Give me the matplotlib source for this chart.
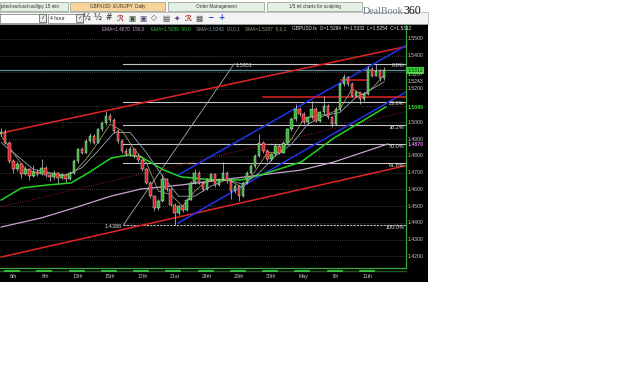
import matplotlib
matplotlib.use("Agg")
import matplotlib.pyplot as plt
from matplotlib.patches import Rectangle

plt.rcParams["font.family"] = ["Liberation Sans", "DejaVu Sans"]

# 4-hour GBP/USD candles (one entry per bar)
opens = [1.4930, 1.4945, 1.4880, 1.4770, 1.4720, 1.4755, 1.4690, 1.4725, 1.4680, 1.4705,
         1.4690, 1.4730, 1.4685, 1.4675, 1.4700, 1.4670, 1.4685, 1.4665, 1.4700, 1.4770,
         1.4840, 1.4820, 1.4890, 1.4920, 1.4880, 1.4960, 1.4995, 1.5040, 1.5015, 1.4950,
         1.4890, 1.4830, 1.4810, 1.4840, 1.4800, 1.4775, 1.4720, 1.4640, 1.4560, 1.4490,
         1.4530, 1.4660, 1.4600, 1.4510, 1.4460, 1.4500, 1.4475, 1.4540, 1.4640, 1.4700,
         1.4640, 1.4600, 1.4660, 1.4690, 1.4625, 1.4660, 1.4700, 1.4650, 1.4590, 1.4620,
         1.4560, 1.4640, 1.4700, 1.4740, 1.4800, 1.4880, 1.4830, 1.4780, 1.4810, 1.4860,
         1.4820, 1.4880, 1.4960, 1.5020, 1.5080, 1.5050, 1.5000, 1.5030, 1.5080, 1.5010,
         1.5060, 1.5100, 1.5030, 1.4990, 1.5080, 1.5230, 1.5270, 1.5230, 1.5160, 1.5180,
         1.5140, 1.5170, 1.5320, 1.5280, 1.5310, 1.5264]
highs = [1.4965, 1.4960, 1.4890, 1.4780, 1.4770, 1.4760, 1.4740, 1.4730, 1.4745, 1.4720,
         1.4785, 1.4740, 1.4695, 1.4715, 1.4705, 1.4700, 1.4690, 1.4710, 1.4780, 1.4850,
         1.4855, 1.4900, 1.4935, 1.4930, 1.4970, 1.5010, 1.5070, 1.5055, 1.5025, 1.4960,
         1.4900, 1.4850, 1.4860, 1.4850, 1.4815, 1.4785, 1.4730, 1.4650, 1.4570, 1.4545,
         1.4690, 1.4670, 1.4610, 1.4520, 1.4510, 1.4510, 1.4550, 1.4650, 1.4720, 1.4710,
         1.4650, 1.4670, 1.4700, 1.4695, 1.4670, 1.4765, 1.4710, 1.4660, 1.4630, 1.4625,
         1.4650, 1.4710, 1.4750, 1.4810, 1.4930, 1.4890, 1.4840, 1.4820, 1.4870, 1.4870,
         1.4890, 1.4970, 1.5030, 1.5110, 1.5090, 1.5060, 1.5040, 1.5130, 1.5090, 1.5070,
         1.5160, 1.5110, 1.5040, 1.5090, 1.5240, 1.5290, 1.5280, 1.5240, 1.5195, 1.5185,
         1.5180, 1.5340, 1.5330, 1.5351, 1.5320, 1.5332]
lows = [1.4920, 1.4870, 1.4760, 1.4700, 1.4710, 1.4670, 1.4685, 1.4655, 1.4675, 1.4680,
        1.4685, 1.4675, 1.4650, 1.4665, 1.4640, 1.4660, 1.4645, 1.4655, 1.4695, 1.4760,
        1.4810, 1.4815, 1.4880, 1.4870, 1.4875, 1.4950, 1.4985, 1.5000, 1.4940, 1.4880,
        1.4820, 1.4800, 1.4800, 1.4790, 1.4765, 1.4710, 1.4630, 1.4550, 1.4470, 1.4480,
        1.4525, 1.4590, 1.4500, 1.4388, 1.4450, 1.4465, 1.4470, 1.4535, 1.4630, 1.4630,
        1.4590, 1.4595, 1.4650, 1.4615, 1.4620, 1.4655, 1.4640, 1.4545, 1.4580, 1.4530,
        1.4555, 1.4630, 1.4690, 1.4730, 1.4795, 1.4820, 1.4770, 1.4770, 1.4800, 1.4810,
        1.4815, 1.4875, 1.4950, 1.5010, 1.5040, 1.4990, 1.4990, 1.5020, 1.5000, 1.5000,
        1.5050, 1.5020, 1.4975, 1.4985, 1.5070, 1.5220, 1.5220, 1.5150, 1.5150, 1.5110,
        1.5130, 1.5165, 1.5270, 1.5275, 1.5250, 1.5254]
closes = [1.4945, 1.4880, 1.4770, 1.4720, 1.4755, 1.4690, 1.4725, 1.4680, 1.4705, 1.4690,
          1.4730, 1.4685, 1.4675, 1.4700, 1.4670, 1.4685, 1.4665, 1.4700, 1.4770, 1.4840,
          1.4820, 1.4890, 1.4920, 1.4880, 1.4960, 1.4995, 1.5040, 1.5015, 1.4950, 1.4890,
          1.4830, 1.4810, 1.4840, 1.4800, 1.4775, 1.4720, 1.4640, 1.4560, 1.4490, 1.4530,
          1.4660, 1.4600, 1.4510, 1.4460, 1.4500, 1.4475, 1.4540, 1.4640, 1.4700, 1.4640,
          1.4600, 1.4660, 1.4690, 1.4625, 1.4660, 1.4700, 1.4650, 1.4590, 1.4620, 1.4560,
          1.4640, 1.4700, 1.4740, 1.4800, 1.4880, 1.4830, 1.4780, 1.4810, 1.4860, 1.4820,
          1.4880, 1.4960, 1.5020, 1.5080, 1.5050, 1.5000, 1.5030, 1.5080, 1.5010, 1.5060,
          1.5100, 1.5030, 1.4990, 1.5080, 1.5230, 1.5270, 1.5230, 1.5160, 1.5180, 1.5140,
          1.5170, 1.5320, 1.5280, 1.5310, 1.5264, 1.5312]

# indicator lines, sampled by eye (bar index, price)
ema150_x = [0, 9.9, 18.1, 27.3, 34.7, 44.6, 54.5, 64.4, 74.4, 82.5, 89.2, 95.9]
ema150_y = [1.4376, 1.4430, 1.4490, 1.4561, 1.4603, 1.4627, 1.4657, 1.4687, 1.4716, 1.4764, 1.4818, 1.4872]
ema50_x = [0, 5, 11.6, 17.3, 21.6, 27.3, 31.5, 34.7, 40.4, 44.6, 52.8, 59.5, 64.4, 74.4, 82.5, 89.2, 95.4]
ema50_y = [1.4537, 1.4609, 1.4627, 1.4639, 1.4699, 1.4788, 1.4806, 1.4794, 1.4716, 1.4675, 1.4657,
           1.4657, 1.4687, 1.4764, 1.4907, 1.5003, 1.5093]
sma10_x = [0, 4, 8, 12, 16, 20, 24, 28, 32, 36, 40, 44, 48, 52, 56, 60, 64, 68, 72, 76, 80, 84, 88, 92, 95]
sma10_y = [1.4880, 1.4800, 1.4720, 1.4700, 1.4685, 1.4730, 1.4830, 1.4940, 1.4940, 1.4820, 1.4680, 1.4560,
           1.4560, 1.4620, 1.4660, 1.4630, 1.4700, 1.4800, 1.4870, 1.4990, 1.5040, 1.5060, 1.5150, 1.5200, 1.5243]
sma5_x = [0, 3, 6, 9, 12, 15, 18, 21, 24, 27, 30, 33, 36, 39, 42, 45, 48, 51, 54, 57, 60, 63, 66, 69,
          72, 75, 78, 81, 84, 87, 90, 93, 95]
sma5_y = [1.4920, 1.4820, 1.4720, 1.4700, 1.4695, 1.4680, 1.4700, 1.4780, 1.4880, 1.4990, 1.4950, 1.4840,
          1.4760, 1.4590, 1.4570, 1.4500, 1.4590, 1.4650, 1.4660, 1.4650, 1.4610, 1.4710, 1.4820, 1.4820,
          1.4900, 1.5020, 1.5040, 1.5050, 1.5080, 1.5200, 1.5160, 1.5230, 1.5287]

# drawn objects: (x0, y0, x1, y1)
red_upper = [0, 1.4937, 101.1, 1.5457]
red_lower = [0, 1.4197, 101.1, 1.4746]
red_mid = [0, 1.4496, 101.1, 1.5069]
blue_upper = [43.9, 1.4687, 101.1, 1.5469]
blue_lower = [43.9, 1.4400, 100.4, 1.5182]
resist_long = [65.0, 1.5152]
resist_short = [84.3, 90.5, 1.5254]

fib_low, fib_high = 1.4388, 1.5351
fib_x0, fib_x1 = 30.3, 57.8
fib_ratios = [0.0, 0.236, 0.382, 0.5, 0.618, 1.0]
fib_names = ["0.0%", "23.6%", "38.2%", "50.0%", "61.8%", "100.0%"]

last_price = 1.5312
grid_levels = [1.42, 1.43, 1.44, 1.45, 1.46, 1.47, 1.48, 1.49, 1.50, 1.51, 1.52, 1.53, 1.54, 1.55]
axis_labels = [1.42, 1.43, 1.44, 1.45, 1.46, 1.47, 1.48, 1.49, 1.50, 1.52, 1.54, 1.55]
tick_pos = [3, 11, 19, 27, 35, 43, 51, 59, 67, 75, 83, 91]
tick_names = ["6th", "8th", "13th", "15th", "17th", "21st", "24th", "28th", "30th", "May", "7th", "11th"]

W, H = 625, 365
fig = plt.figure(figsize=(W / 100, H / 100), dpi=100, facecolor="white")


def fx(px):
    return px / W


def fy(py):
    return 1 - py / H


# window chrome drawn in pixel coordinates
bg = fig.add_axes([0, 0, 1, 1], zorder=-1)
bg.set_xlim(0, W)
bg.set_ylim(H, 0)
bg.axis("off")
bg.add_patch(Rectangle((0, 24), 428, 258, fc="black", ec="none"))
bg.add_patch(Rectangle((0, 12), 428, 12, fc="#f4f4f4", ec="#a8a8a8", lw=0.5))
tabs = [(0, 68, "plied-eur/usd-usd/jpy 15 min", "#e6eee6", "left"),
        (70, 95, "GBP/USD  EUR/JPY  Daily", "#f8d49a", "center"),
        (168, 96, "Order Management", "#e4f0e4", "center"),
        (267, 95, "1/5 ml charts for scalping", "#e4f0e4", "center")]
for x0, w, label, col, ha in tabs:
    bg.add_patch(Rectangle((x0, 2), w, 9, fc=col, ec="#8a9a8a", lw=0.5))
    tx = x0 + 1 if ha == "left" else x0 + w / 2
    bg.text(tx, 6.6, label, fontsize=3.3, ha=ha, va="center", color="#303030")
bg.text(403, 11, "DealBook", fontsize=7.2, family="Liberation Serif", color="#667788", va="center", ha="right")
bg.text(403.5, 11.5, "360", fontsize=8.5, family="Liberation Serif", color="#111111", va="center", ha="left")
# dropdowns and toolbar icons
bg.add_patch(Rectangle((0, 13.5), 46, 9, fc="white", ec="#7a7a7a", lw=0.5))
bg.add_patch(Rectangle((39, 14), 7, 8, fc="#e8e8e8", ec="#555555", lw=0.5))
bg.text(42.5, 18, "✓", fontsize=4, ha="center", va="center", color="#224422")
bg.add_patch(Rectangle((48, 13.5), 35, 9, fc="white", ec="#7a7a7a", lw=0.5))
bg.text(50, 18, "4 hour", fontsize=3.6, va="center", color="#202020")
bg.add_patch(Rectangle((76, 14), 7, 8, fc="#e8e8e8", ec="#555555", lw=0.5))
bg.text(79.5, 18, "✓", fontsize=4, ha="center", va="center", color="#224422")
icons = [(87, "½", "#555555"), (98, "½", "#555555"), (109, "#", "#555555"), (120, "ℛ", "#aa3333"),
         (132, "▣", "#335533"), (143, "▣", "#555577"), (154, "◇", "#444444"), (166, "▤", "#444444"),
         (177, "✦", "#6644aa"), (188, "ℛ", "#aa3333"), (199, "▦", "#555555"), (210, "−", "#2244cc"),
         (221, "+", "#2244cc")]
for x, g, c in icons:
    bg.text(x, 18, g, fontsize=5.5, ha="center", va="center", color=c, family="DejaVu Sans", fontweight="bold")
# time strip under the chart
bg.plot([0, 406], [271, 271], color="#1f5a1f", lw=1.0)
for t in tick_pos:
    xp = (t - 0.025) * 4.034
    bg.plot([xp - 7, xp + 7], [271, 271], color="#3ed83e", lw=1.2)

# main price panel
ax = fig.add_axes([0, fy(268), 406 / W, 243 / H], facecolor="black")
ax.set_xlim(-0.3, 100.4)
ax.set_ylim(1.41313, 1.55821)
for s in ["top", "left"]:
    ax.spines[s].set_visible(False)
for s in ["right", "bottom"]:
    ax.spines[s].set_color("#3aa83a")
    ax.spines[s].set_linewidth(0.9)

for lv in grid_levels:
    ax.axhline(lv, color="#707070", lw=0.5, ls=(0, (1, 2)), zorder=1)

# fibonacci retracement
rng = fib_high - fib_low
for r, name in zip(fib_ratios, fib_names):
    lv = fib_high - r * rng
    ls = (0, (2, 1)) if r == 1.0 else "-"
    ax.plot([fib_x0, ax.get_xlim()[1]], [lv, lv], color="#c4c4c4", lw=0.8, ls=ls, zorder=2)
    ax.text(0.997, lv - 0.0012, name, transform=ax.get_yaxis_transform(), ha="right", va="center",
            fontsize=4, color="#e0e0e0", zorder=6)
ax.plot([fib_x0, fib_x1], [fib_low, fib_high], color="#a8a8a8", lw=0.6, zorder=2)
ax.text(fib_x0 - 0.3, fib_low - 0.0008, f"{fib_low:.4f}", ha="right", va="center", fontsize=4, color="#e0e0e0")
ax.text(fib_x1 + 0.3, fib_high - 0.0008, f"{fib_high:.4f}", ha="left", va="center", fontsize=4, color="#e0e0e0")

ax.axhline(last_price, color="#5d8e9c", lw=0.9, zorder=2)

# trend channels
for ln, col, lw, ls in [(red_upper, "#e02424", 1.1, "-"), (red_lower, "#e02424", 1.1, "-"),
                        (red_mid, "#8a2020", 0.7, (0, (1, 1.5))),
                        (blue_upper, "#2233ee", 1.1, "-"), (blue_lower, "#2233ee", 1.1, "-")]:
    ax.plot([ln[0], ln[2]], [ln[1], ln[3]], color=col, lw=lw, ls=ls, zorder=3)
ax.plot([resist_long[0], ax.get_xlim()[1]], [resist_long[1]] * 2, color="#e02424", lw=1.1, zorder=3)
ax.plot(resist_short[:2], [resist_short[2]] * 2, color="#e02424", lw=1.1, zorder=3)

# moving averages
ax.plot(ema150_x, ema150_y, color="#c8a4cc", lw=0.9, zorder=3)
ax.plot(ema50_x, ema50_y, color="#22d422", lw=1.1, zorder=3)
ax.plot(sma10_x, sma10_y, color="#8fa7b4", lw=0.6, zorder=4)
ax.plot(sma5_x, sma5_y, color="#b8b070", lw=0.5, zorder=4)

# candles
idx = list(range(len(closes)))
ax.vlines(idx, lows, highs, color="#d0d0d0", lw=0.5, zorder=5)
bottoms = [min(o, c) for o, c in zip(opens, closes)]
heights = [max(abs(c - o), 0.0004) for o, c in zip(opens, closes)]
colors = ["#2fb52f" if c >= o else "#e02222" for o, c in zip(opens, closes)]
ax.bar(idx, heights, bottom=bottoms, width=0.62, color=colors, edgecolor="#e6e6e6", linewidth=0.3, zorder=5)

# axes labels
ax.set_yticks([])
ax.set_xticks(tick_pos, tick_names)
ax.tick_params(axis="x", length=0, pad=4.5, labelsize=3.8, labelcolor="#c8c8c8")
ytr = ax.get_yaxis_transform()
for lv in axis_labels:
    ax.text(1.004, lv, f"{lv:.4f}", transform=ytr, fontsize=3.7, color="#c8c8c8", va="center", clip_on=False)
ax.text(1.004, 1.5312, "1.5312", transform=ytr, fontsize=3.7, color="#103010", va="center", clip_on=False,
        bbox=dict(boxstyle="square,pad=0.2", fc="#36d436", ec="none"))
ax.text(1.004, 1.5287, "1.5287", transform=ytr, fontsize=3.7, color="#c0c890", va="center", clip_on=False)
ax.text(1.004, 1.5243, "1.5243", transform=ytr, fontsize=3.7, color="#d8dce0", va="center", clip_on=False)
ax.text(1.004, 1.5089, "1.5089", transform=ytr, fontsize=3.7, color="#36e036", va="center", clip_on=False,
        fontweight="bold")
ax.text(1.004, 1.4870, "1.4870", transform=ytr, fontsize=3.7, color="#e070e8", va="center", clip_on=False,
        fontweight="bold")

# indicator header
header = [(102, "EMA=1.4870  150,0", "#c8a0d0"), (151, "EMA=1.5089  50,0", "#30c030"),
          (196, "SMA=1.5243  10,0,1", "#8a9aa8"), (245, "SMA=1.5287  5,0,1", "#9a9a80"),
          (292, "GBPUSD.fx  O=1.5264  H=1.5332  L=1.5254  C=1.5312", "#e8e8e8")]
for x, s, c in header:
    fig.text(fx(x), fy(29), s, fontsize=3.4, color=c, va="center")

fig.savefig("out.png", dpi=100, facecolor="white")
